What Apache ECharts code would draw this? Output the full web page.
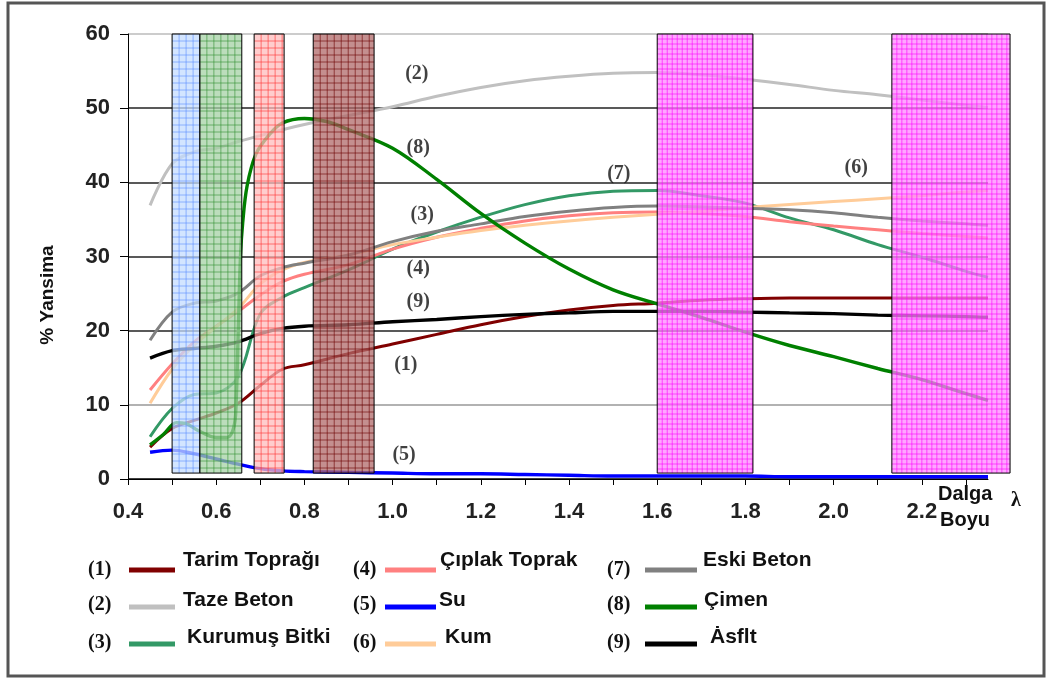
<!DOCTYPE html>
<html><head><meta charset="utf-8">
<script src="https://cdn.jsdelivr.net/npm/echarts@6/dist/echarts.min.js"></script>
<style>html,body{margin:0;padding:0;background:#fff}#c{width:1048px;height:680px}</style>
</head><body><div id="c"></div>
<script>
// ---- data ----
const wavelength = [0.45,0.5,0.55,0.6,0.65,0.7,0.75,0.8,0.9,1.0,1.1,1.2,1.3,1.4,1.5,1.6,1.7,1.8,1.9,2.0,2.1,2.2,2.3,2.35];
const tarimToprak = [4.3,6.8,7.9,8.9,10.2,12.6,14.8,15.4,16.9,18.2,19.5,20.8,21.9,22.8,23.4,23.7,24.1,24.3,24.4,24.4,24.4,24.4,24.4,24.4];
const tazeBeton   = [36.9,42.5,44.1,44.6,45.5,46.3,47.1,47.8,49.0,50.2,51.6,52.8,53.7,54.3,54.7,54.8,54.5,53.9,53.2,52.4,51.8,51.1,50.4,50.1];
const kurumusBitki= [5.7,9.5,11.4,11.6,13.8,22.3,24.5,25.8,28.2,31.0,33.3,35.3,37.0,38.2,38.8,38.9,38.2,37.2,35.2,33.6,31.6,29.9,28.0,27.2];
const ciplakToprak= [12.0,15.5,18.5,20.6,22.6,24.8,26.6,27.6,28.9,31.0,32.6,33.8,34.8,35.5,35.9,36.0,35.8,35.4,34.7,34.1,33.6,33.1,32.7,32.5];
const su          = [3.6,3.9,3.4,2.7,2.0,1.4,1.1,1.0,0.9,0.8,0.7,0.7,0.6,0.5,0.4,0.4,0.4,0.4,0.3,0.3,0.3,0.3,0.3,0.3];
const kum         = [10.2,14.8,18.0,20.5,23.0,26.3,28.2,29.2,30.2,31.6,32.6,33.5,34.2,34.8,35.3,35.7,36.1,36.6,37.0,37.4,37.8,38.2,38.7,38.9];
const eskiBeton   = [18.7,22.5,23.7,24.0,25.1,27.4,28.5,29.1,30.2,32.0,33.4,34.4,35.4,36.1,36.6,36.8,36.7,36.5,36.3,35.9,35.3,34.8,34.4,34.2];
const asfalt      = [16.3,17.3,17.6,17.9,18.5,19.6,20.3,20.6,20.8,21.2,21.5,21.9,22.2,22.4,22.6,22.6,22.6,22.5,22.4,22.3,22.1,22.0,21.9,21.8];
const cimenWave   = [0.45,0.48,0.51,0.53,0.56,0.6,0.625,0.64,0.645,0.65,0.655,0.66,0.67,0.69,0.72,0.75,0.8,0.85,0.9,1.0,1.1,1.2,1.3,1.4,1.5,1.6,1.7,1.8,1.9,2.0,2.1,2.2,2.3,2.35];
const cimen       = [4.6,6.0,7.6,7.5,6.5,5.6,5.6,7.0,10,20,30,34.5,39.5,43.8,46.4,48.0,48.6,48.2,47.1,44.6,40.4,35.8,31.8,28.3,25.5,23.6,21.8,19.8,18.0,16.5,14.9,13.4,11.5,10.6];

const seriesNames = ['Tarim Toprağı','Taze Beton','Kurumuş Bitki','Çıplak Toprak','Su','Kum','Eski Beton','Çimen','Ȧsflt'];
const seriesNums  = ['(1)','(2)','(3)','(4)','(5)','(6)','(7)','(8)','(9)'];

// spectral bands (wavelength ranges)
const bandStart = [0.50,0.563,0.686,0.82,1.60,2.132];
const bandEnd   = [0.563,0.658,0.754,0.958,1.817,2.40];
const bandTop = 60, bandBottom = 0.8;

// curve annotations [x, y, text]
const annotX = [1.055,1.058,1.513,2.051,1.067,1.058,1.058,1.030,1.026];
const annotY = [54.6,44.7,41.2,42.0,35.6,28.4,23.9,15.4,3.2];
const annotText = ['(2)','(8)','(7)','(6)','(3)','(4)','(9)','(1)','(5)'];

const xTickLabels = ['0.4','0.6','0.8','1.0','1.2','1.4','1.6','1.8','2.0','2.2'];

// ---- style ----
const colors = ['#800000','#c0c0c0','#339966','#ff8080','#0000ff','#ffcc99','#808080','#008000','#000000'];
const bandFill = ['#c4dcff','#a6d2a6','#ffbcbc','#b06a6a','#ff88ff','#ff88ff'];
const bandLine = ['#5c8cff','#2f8f2f','#ff3030','#6a0000','#ff00ff','#ff00ff'];

const chart = echarts.init(document.getElementById('c'), null, {renderer:'canvas'});

function renderBand(params, api) {
  const i = params.dataIndex;
  const p0 = api.coord([api.value(0), bandTop]);
  const p1 = api.coord([api.value(1), bandBottom]);
  const x = p0[0], y = p0[1], w = p1[0]-p0[0], h = p1[1]-p0[1];
  const step = i >= 4 ? 5 : 7;
  const children = [{type:'rect', shape:{x,y,width:w,height:h}, style:{fill:bandFill[i], opacity:0.75}}];
  for (let gx = x + step; gx < x + w; gx += step) {
    children.push({type:'line', shape:{x1:gx,y1:y,x2:gx,y2:y+h}, style:{stroke:bandLine[i], lineWidth:1, opacity:0.6}});
  }
  for (let gy = y + step; gy < y + h; gy += step) {
    children.push({type:'line', shape:{x1:x,y1:gy,x2:x+w,y2:gy}, style:{stroke:bandLine[i], lineWidth:1, opacity:0.6}});
  }
  children.push({type:'rect', shape:{x,y,width:w,height:h}, style:{fill:'none', stroke:'#000', lineWidth:1}});
  return {type:'group', children};
}

const allY = [tarimToprak,tazeBeton,kurumusBitki,ciplakToprak,su,kum,eskiBeton,cimen,asfalt];
const lineSeries = allY.map((ys, k) => {
  const xs = k === 7 ? cimenWave : wavelength;
  return {
    name: seriesNames[k], type:'line', smooth:0.35, symbol:'none',
    data: ys.map((v,j)=>[xs[j], v]),
    lineStyle:{color:colors[k], width: (k===7||k===8||k===4)?3.4:3},
    itemStyle:{color:colors[k]}, z: 3
  };
});

// legend built from series arrays
const legendGraphics = [];
const legCols = [{num:103, l0:129, l1:175, txt:183}, {num:368, l0:385, l1:436, txt:440}, {num:622, l0:645, l1:697, txt:703}];
const legRows = [{num:572, line:570, txt:563}, {num:607, line:607, txt:603}, {num:645, line:644, txt:640}];
const legTxtAdj = [[0,0,0],[0,-1,1],[4,5,7]];
seriesNames.forEach((nm, k) => {
  const c = Math.floor(k/3), r = k%3;
  const col = legCols[c], row = legRows[r];
  legendGraphics.push({type:'text', left: col.num - 15, top: row.num - 12,
    style:{text: seriesNums[k], font:'bold 20px "Liberation Serif", serif', fill:'#111'}});
  legendGraphics.push({type:'line', shape:{x1:col.l0,y1:row.line,x2:col.l1,y2:row.line},
    style:{stroke:colors[k], lineWidth:5}});
  legendGraphics.push({type:'text', left: col.txt + legTxtAdj[r][c], top: row.txt - 13,
    style:{text: nm, font:'bold 21px "Liberation Sans", Arial, sans-serif', fill:'#111'}});
});

chart.setOption({
  animation:false,
  backgroundColor:'#fff',
  grid:{left:128, right:60, top:34, bottom:201, containLabel:false},
  xAxis:{
    type:'value', min:0.4, max:2.35, interval:0.1,
    axisLine:{show:true, lineStyle:{color:'#000', width:1}},
    axisTick:{show:true, length:6, lineStyle:{color:'#000'}},
    splitLine:{show:false},
    axisLabel:{
      showMaxLabel:false, margin:22,
      fontFamily:'"Liberation Sans", Arial, sans-serif', fontWeight:'bold', fontSize:22, color:'#222',
      formatter: v => {
        const t = v*10, r = Math.round(t);
        if (Math.abs(t-r) > 0.01 || r % 2 !== 0) return '';
        const lab = (r/10).toFixed(1);
        return xTickLabels.indexOf(lab) >= 0 ? lab : '';
      }
    }
  },
  yAxis:{
    type:'value', min:0, max:60, interval:10,
    axisLine:{show:true, lineStyle:{color:'#000', width:1}},
    axisTick:{show:true, length:8, lineStyle:{color:'#000'}},
    splitLine:{show:true, lineStyle:{color:['#000','#999','#222','#222','#222','#222','#bbb'], width:1.5}},
    axisLabel:{margin:18, fontFamily:'"Liberation Sans", Arial, sans-serif', fontWeight:'bold', fontSize:22, color:'#222'}
  },
  series: lineSeries.concat([
    {type:'custom', renderItem:renderBand, clip:false, z:5, silent:true,
     data: bandStart.map((s,i)=>[s, bandEnd[i]])},
    {type:'scatter', symbolSize:0, z:6, silent:true,
     data: annotX.map((x,i)=>({value:[x, annotY[i]], name:annotText[i]})),
     label:{show:true, position:'inside', formatter: p=>p.name,
       fontFamily:'"Liberation Serif", serif', fontWeight:'bold', fontSize:20, color:'#111'}}
  ]),
  graphic: [
    {type:'rect', shape:{x:8, y:3, width:1036, height:673}, style:{fill:'none', stroke:'#555', lineWidth:3}, z:-1},
    {type:'text', rotation:Math.PI/2,
     style:{text:'% Yansima', font:'bold 19px "Liberation Sans", Arial, sans-serif', fill:'#111', align:'center', verticalAlign:'middle'},
     x:48, y:295},
    {type:'text', left:938, top:484, style:{text:'Dalga', font:'bold 20px "Liberation Sans", Arial, sans-serif', fill:'#111'}},
    {type:'text', left:940, top:510, style:{text:'Boyu', font:'bold 20px "Liberation Sans", Arial, sans-serif', fill:'#111'}},
    {type:'text', left:1011, top:491, style:{text:'λ', font:'bold 20px "Liberation Serif", serif', fill:'#111'}}
  ].concat(legendGraphics)
});
</script></body></html>
